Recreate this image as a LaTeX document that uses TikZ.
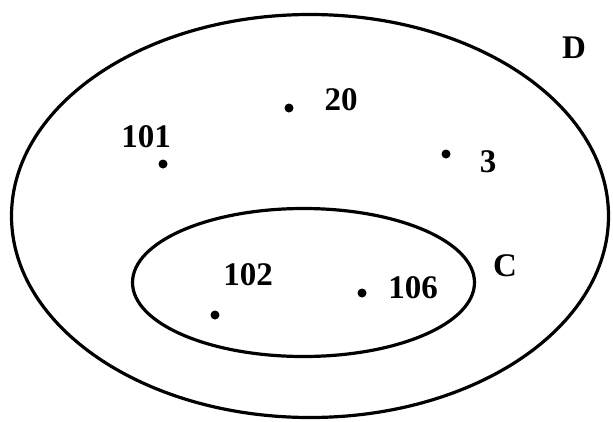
\documentclass[tikz,border=0pt]{standalone}
\usepackage{fontspec}
\setmainfont{Liberation Serif}
\usetikzlibrary{shapes.geometric}
\begin{document}
\begin{tikzpicture}
            [x=1pt, y=-1pt,
             set node/.style={ellipse,draw,line width=3.2pt,inner sep=0pt},
             elem/.style={circle,fill,inner sep=0pt,minimum size=9pt},
             lbl/.style={inner sep=0pt,font=\fontsize{33}{33}\selectfont\bfseries}]
            \useasboundingbox (0,0) rectangle (613,421);
            \node[set node, minimum width=597pt, minimum height=403pt] (d) at (310,216) {};
            \node[set node, minimum width=342pt, minimum height=148pt] (c) at (303.5,282.5) {};
            \node[lbl] (dname) at (574,48) {D};
            \node[lbl] (cname) at (505,266) {C};

            \node[elem] (e20) at (289,108) {};
            \node[elem] (e101) at (163,164) {};
            \node[elem] (e3) at (446,154) {};
            \node[elem] (e102) at (215,315) {};
            \node[elem] (e106) at (362,293) {};

            \node[lbl] (l20) at (341,100) {20};
            \node[lbl] (l101) at (146,137) {101};
            \node[lbl] (l3) at (488,162) {3};
            \node[lbl] (l102) at (248,275) {102};
            \node[lbl] (l106) at (413,288) {106};
         \end{tikzpicture}
\end{document}
